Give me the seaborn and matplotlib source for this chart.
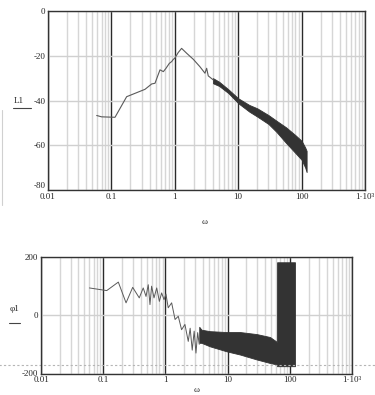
import numpy as np
import matplotlib.pyplot as plt
import matplotlib.ticker as plticker
from matplotlib.lines import Line2D
import seaborn as sns

# magnitude L1 (dB) - low frequency trace
omega_mag = [0.0586, 0.07, 0.114, 0.174, 0.339, 0.432, 0.487, 0.584, 0.66, 0.726, 0.82,
             0.893, 0.948, 1.0, 1.13, 1.28, 1.54, 1.96, 2.49, 2.99, 3.18, 3.37, 4.05]
L1 = [-46.7, -47.3, -47.5, -38.3, -35.0, -32.6, -32.3, -26.3, -27.1, -25.6, -23.4,
      -22.6, -21.6, -21.1, -18.6, -16.7, -18.9, -21.6, -24.9, -27.8, -25.6, -29.0, -30.8]
# magnitude - noisy high frequency band (upper / lower envelope)
omega_mag_band = [4, 5, 7, 10, 15, 20, 30, 40, 57, 80, 100, 114, 120]
L1_hi = [-30, -31.6, -35, -39, -42, -43.5, -46.5, -49, -52, -55.5, -58, -61, -62.5]
L1_lo = [-32.3, -33.5, -36.7, -41.2, -45, -47.2, -50.5, -54, -59, -63.5, -66.5, -70, -72]

# phase phi1 (deg) - low frequency trace
omega_ph = [0.06, 0.114, 0.175, 0.233, 0.298, 0.38, 0.44, 0.488, 0.53, 0.565, 0.6, 0.656,
            0.725, 0.8, 0.87, 0.95, 1.02, 1.11, 1.26, 1.43, 1.61, 1.82, 2.06, 2.33,
            2.5, 2.7, 2.9, 3.1, 3.3, 3.5]
phi1 = [93, 84, 113, 42, 95, 59, 93, 64, 104, 36, 99, 59,
        93, 47, 76, 53, 72, 25, 42, -15, -4, -50, -32, -90,
        -45, -120, -55, -130, -60, -100]
# phase - noisy band (upper / lower envelope)
omega_ph_band = [3.5, 3.8, 5.2, 9.6, 15.8, 29.4, 48, 58.6, 62, 62.5, 121]
phi1_hi = [-40, -50, -55, -58, -58, -65, -75, -88, -92, 181, 181]
phi1_lo = [-95, -95, -107, -124, -135, -152, -164, -168, -170, -175, -175]

x_ticks = [0.01, 0.1, 1, 10, 100, 1000]
x_tick_labels = ["0.01", "0.1", "1", "10", "100", "1·10³"]
mag_ticks = [0, -20, -40, -60, -80]
phase_ticks = [200, 0, -200]
phase_marker = -172

sns.set_style("white")
plt.rcParams['font.family'] = ['Liberation Serif', 'DejaVu Serif']
plt.rcParams['font.size'] = 6.5
plt.rcParams['axes.unicode_minus'] = False

fig = plt.figure(figsize=(3.75, 3.95), dpi=100)
ax1 = fig.add_axes([48 / 375, 1 - 190 / 395, 317 / 375, 179 / 395])
ax2 = fig.add_axes([41 / 375, 1 - 373.5 / 395, 311 / 375, 116.8 / 395])


def style_axes(ax, yticks, ylim):
    ax.set_xscale('log')
    ax.set_xlim(0.01, 1000)
    ax.set_ylim(*ylim)
    ax.set_xticks(x_ticks)
    ax.set_xticklabels(x_tick_labels)
    ax.xaxis.set_minor_locator(plticker.LogLocator(base=10, subs=np.arange(2, 10), numticks=20))
    ax.xaxis.set_minor_formatter(plticker.NullFormatter())
    ax.set_yticks(yticks)
    ax.set_yticklabels([str(t) for t in yticks])
    ax.grid(True, which='minor', axis='x', color='#d6d6d6', lw=1.0)
    ax.grid(True, which='major', axis='x', color='#2a2a2a', lw=1.0)
    ax.grid(True, which='major', axis='y', color='#d0d0d0', lw=1.0)
    ax.tick_params(which='both', length=0, pad=2)
    for s in ax.spines.values():
        s.set_color('#333333')
        s.set_linewidth(1.0)
    ax.set_xlabel('')
    ax.set_ylabel('')


# top: magnitude
sns.lineplot(x=omega_mag, y=L1, color='#5a5a5a', lw=0.8, ax=ax1, sort=False)
ax1.fill_between(omega_mag_band, L1_lo, L1_hi, color='#333333', lw=0.6, edgecolor='#333333')
style_axes(ax1, mag_ticks, (-80, 0))
for lab in ax1.get_yticklabels():
    if lab.get_text() == '-80':
        lab.set_va('bottom')

# bottom: phase
sns.lineplot(x=omega_ph, y=phi1, color='#5a5a5a', lw=0.7, ax=ax2, sort=False)
ax2.fill_between(omega_ph_band, phi1_lo, phi1_hi, color='#333333', lw=0.6, edgecolor='#333333')
style_axes(ax2, phase_ticks, (-200, 200))
ax2.axhline(phase_marker, xmin=-0.14, xmax=1.08, clip_on=False, ls=(0, (2, 2)),
            color='#b5b5b5', lw=0.8)

# Mathcad style labels
fig.text(19 / 375, 1 - 100.7 / 395, 'L1', ha='center', va='center')
fig.add_artist(Line2D([13 / 375, 31 / 375], [1 - 108.3 / 395] * 2, color='#444444', lw=0.8))
fig.text(14 / 375, 1 - 309 / 395, 'φ1', ha='center', va='center')
fig.add_artist(Line2D([9 / 375, 20 / 375], [1 - 323.3 / 395] * 2, color='#444444', lw=0.8))
fig.add_artist(Line2D([1.5 / 375, 1.5 / 375], [1 - 110 / 395, 1 - 205 / 395], color='#d0d0d0', lw=0.8))
fig.text(205 / 375, 1 - 221.7 / 395, 'ω', ha='center', va='center')
fig.text(197 / 375, 0.002, 'ω', ha='center', va='bottom')

fig.savefig('out.png', dpi=100)
